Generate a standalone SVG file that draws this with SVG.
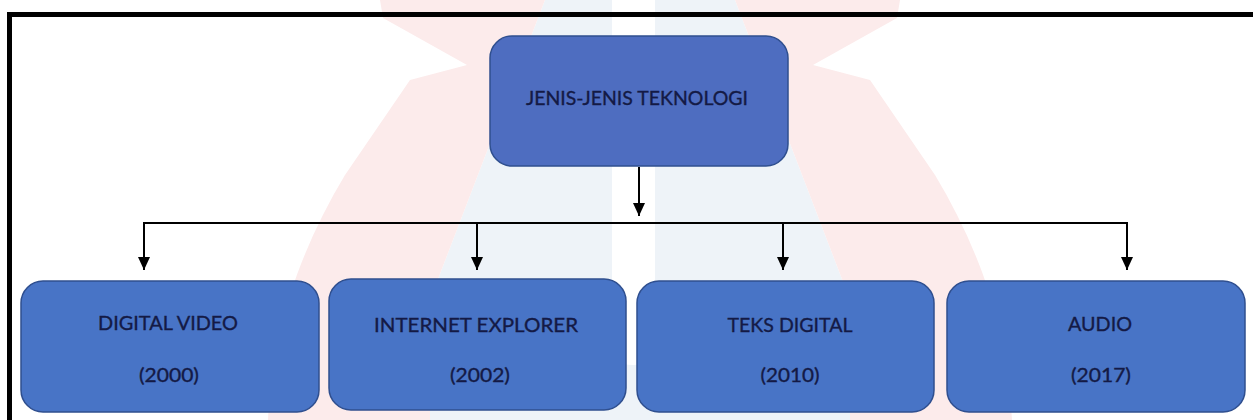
<svg xmlns="http://www.w3.org/2000/svg" width="1253" height="420" viewBox="0 0 1253 420">
  <defs>
    <marker id="arrow" viewBox="0 0 13 12" markerUnits="userSpaceOnUse" markerWidth="13" markerHeight="12" refX="13" refY="6" orient="auto">
      <path d="M0,0 L13,6 L0,12 Z" fill="#000"/>
    </marker>
  </defs>
  <style>
    .box { fill: #4270C4; fill-opacity: 0.97; stroke: #2F4F8F; stroke-width: 1.5; }
    .top { fill: #4868BE; }
    .lbl { font-family: Lato, "Open Sans", "Liberation Sans", sans-serif; font-size: 20px; fill: #141A45; stroke: #141A45; stroke-width: 0.35; text-anchor: middle; }
    .conn { stroke: #000; stroke-width: 2; fill: none; }
    .pink { fill: #FCEBEB; }
    .lblue { fill: #EEF3F8; }
  </style>
  <rect x="0" y="0" width="1253" height="420" fill="#FFFFFF"/>
  <g id="watermark">
    <path class="lblue" d="M545,0 L735,0 L850,300 L850,420 L430,420 L430,300 Z"/>
    <path fill="#FFFFFF" d="M612,0 L655,0 L655,345 Q655,365 633,365 Q612,365 612,345 Z"/>
    <path class="pink" d="M380,0 L545,0 L430,300 L430,420 L268,420 C272,330 300,250 345,175 L410,80 L467,65 L383,18 Z"/>
    <path class="pink" d="M900,0 L735,0 L850,300 L850,420 L1012,420 C1008,330 980,250 935,175 L870,80 L813,65 L897,18 Z"/>
  </g>
  <g id="frame">
    <rect x="7" y="12" width="1246" height="5" fill="#000"/>
    <rect x="7" y="12" width="5" height="408" fill="#000"/>
  </g>
  <g id="connectors">
    <line class="conn" x1="639" y1="167" x2="639" y2="216" marker-end="url(#arrow)"/>
    <line class="conn" x1="143" y1="223" x2="1128" y2="223"/>
    <line class="conn" x1="144" y1="223" x2="144" y2="270" marker-end="url(#arrow)"/>
    <line class="conn" x1="477" y1="223" x2="477" y2="270" marker-end="url(#arrow)"/>
    <line class="conn" x1="783" y1="223" x2="783" y2="270" marker-end="url(#arrow)"/>
    <line class="conn" x1="1127" y1="223" x2="1127" y2="270" marker-end="url(#arrow)"/>
  </g>
  <g id="node-jenis">
    <rect class="box top" x="490" y="36" width="298" height="130" rx="22"/>
    <text class="lbl" x="637" y="105" textLength="222" lengthAdjust="spacingAndGlyphs">JENIS-JENIS TEKNOLOGI</text>
  </g>
  <g id="node-digital-video">
    <rect class="box" x="21" y="281" width="298" height="131" rx="22"/>
    <text class="lbl" x="168" y="330" textLength="140" lengthAdjust="spacingAndGlyphs">DIGITAL VIDEO</text>
    <text class="lbl" x="169" y="382" textLength="60" lengthAdjust="spacingAndGlyphs">(2000)</text>
  </g>
  <g id="node-internet-explorer">
    <rect class="box" x="329" y="279" width="297" height="131" rx="22"/>
    <text class="lbl" x="476" y="332" textLength="204" lengthAdjust="spacingAndGlyphs">INTERNET EXPLORER</text>
    <text class="lbl" x="480" y="382" textLength="60" lengthAdjust="spacingAndGlyphs">(2002)</text>
  </g>
  <g id="node-teks-digital">
    <rect class="box" x="637" y="281" width="297" height="131" rx="22"/>
    <text class="lbl" x="790" y="332" textLength="125" lengthAdjust="spacingAndGlyphs">TEKS DIGITAL</text>
    <text class="lbl" x="790" y="382" textLength="59" lengthAdjust="spacingAndGlyphs">(2010)</text>
  </g>
  <g id="node-audio">
    <rect class="box" x="947" y="281" width="298" height="131" rx="22"/>
    <text class="lbl" x="1100" y="331" textLength="64" lengthAdjust="spacingAndGlyphs">AUDIO</text>
    <text class="lbl" x="1101" y="382" textLength="60" lengthAdjust="spacingAndGlyphs">(2017)</text>
  </g>
</svg>
